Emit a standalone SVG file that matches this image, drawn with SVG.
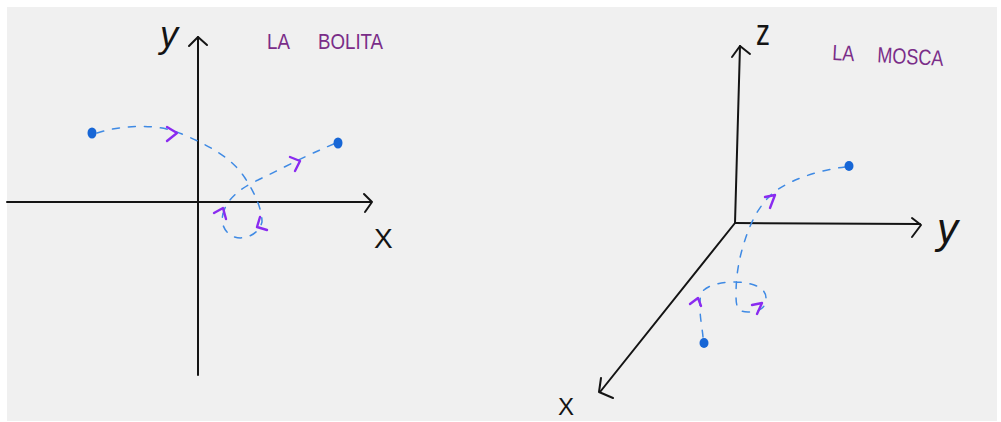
<svg xmlns="http://www.w3.org/2000/svg" width="1001" height="422" viewBox="0 0 1001 422">
  <defs>
    <style>
      .axis { fill: none; stroke: #141414; stroke-width: 2; stroke-linecap: round; stroke-linejoin: round; }
      .traj { fill: none; stroke: #3f8ae4; stroke-width: 1.5; stroke-dasharray: 7 9; stroke-linecap: round; }
      .dir { fill: none; stroke: #8a2bf0; stroke-width: 2.4; stroke-linecap: round; stroke-linejoin: round; }
      .dot { fill: #1766d6; }
      .lbl { font-family: "Liberation Sans", "DejaVu Sans", sans-serif; fill: #141414; }
      .title { font-family: "Liberation Sans", "DejaVu Sans", sans-serif; fill: #7a2d88; font-size: 22px; }
    </style>
  </defs>
  <rect x="0" y="0" width="1001" height="422" fill="#ffffff"/>
  <rect x="7" y="7" width="990" height="414" fill="#f0f0f0"/>

  <!-- LEFT PANEL: LA BOLITA -->
  <g id="bolita-axes">
    <path class="axis" d="M7,202 L371,202"/>
    <path class="axis" d="M364,194 L372,202 L365,212"/>
    <path class="axis" d="M198,375 L198,37"/>
    <path class="axis" d="M189,46 L198,37 L207,45"/>
  </g>
  <g id="bolita-labels">
    <text class="lbl" x="160" y="47" font-size="36" font-style="italic">y</text>
    <text class="lbl" x="374" y="248" font-size="28">X</text>
    <text class="title" transform="translate(267,49) scale(0.85,1)">LA<tspan dx="27"> BOLITA</tspan></text>
  </g>
  <g id="bolita-path">
    <path class="traj" d="M97,133 C125,124 160,124 182,134 C210,146 232,158 245,178 C256,195 262,210 262,222 C258,238 236,243 227,232 C221,225 222,218 223,214"/>
    <path class="traj" d="M223,214 C226,200 240,188 258,180 C283,168 305,156 336,143"/>
    <ellipse class="dot" cx="92" cy="133" rx="4.5" ry="5.5"/>
    <ellipse class="dot" cx="338" cy="143" rx="4.5" ry="5.5"/>
    <path class="dir" d="M167,127 L177,133 L167,141"/>
    <path class="dir" d="M290,157 L300,161 L295,171"/>
    <path class="dir" d="M214,213 L223,208 L226,219"/>
    <path class="dir" d="M260,217 L257,227 L267,230"/>
  </g>

  <!-- RIGHT PANEL: LA MOSCA -->
  <g id="mosca-axes">
    <path class="axis" d="M735,223 L740,46"/>
    <path class="axis" d="M732,57 L740,46 L750,54"/>
    <path class="axis" d="M735,223 L920,224"/>
    <path class="axis" d="M912,218 L921,225 L912,237"/>
    <path class="axis" d="M735,223 L600,392"/>
    <path class="axis" d="M601,378 L599,392 L613,398"/>
  </g>
  <g id="mosca-labels">
    <text class="lbl" x="756" y="45" font-size="36" textLength="14" lengthAdjust="spacingAndGlyphs">z</text>
    <text class="lbl" x="937" y="243" font-size="42" font-style="italic">y</text>
    <text class="lbl" x="558" y="415" font-size="24">X</text>
    <text class="title" transform="translate(832,60) rotate(3) scale(0.82,1)">LA<tspan dx="22"> MOSCA</tspan></text>
  </g>
  <g id="mosca-path">
    <path class="traj" d="M703,337 C702,325 698,310 701,293 C708,284 722,282 737,282 C754,283 766,288 766,298 C766,308 760,312 748,312 C737,312 736,306 736,295 C736,275 739,258 745,240 C752,218 762,201 777,190 C795,178 820,170 845,167"/>
    <ellipse class="dot" cx="704" cy="343" rx="4.5" ry="5"/>
    <ellipse class="dot" cx="849" cy="166" rx="4.5" ry="5"/>
    <path class="dir" d="M690,304 L698,298 L701,306"/>
    <path class="dir" d="M752,305 L762,303 L757,314"/>
    <path class="dir" d="M765,197 L775,195 L770,208"/>
  </g>
</svg>
